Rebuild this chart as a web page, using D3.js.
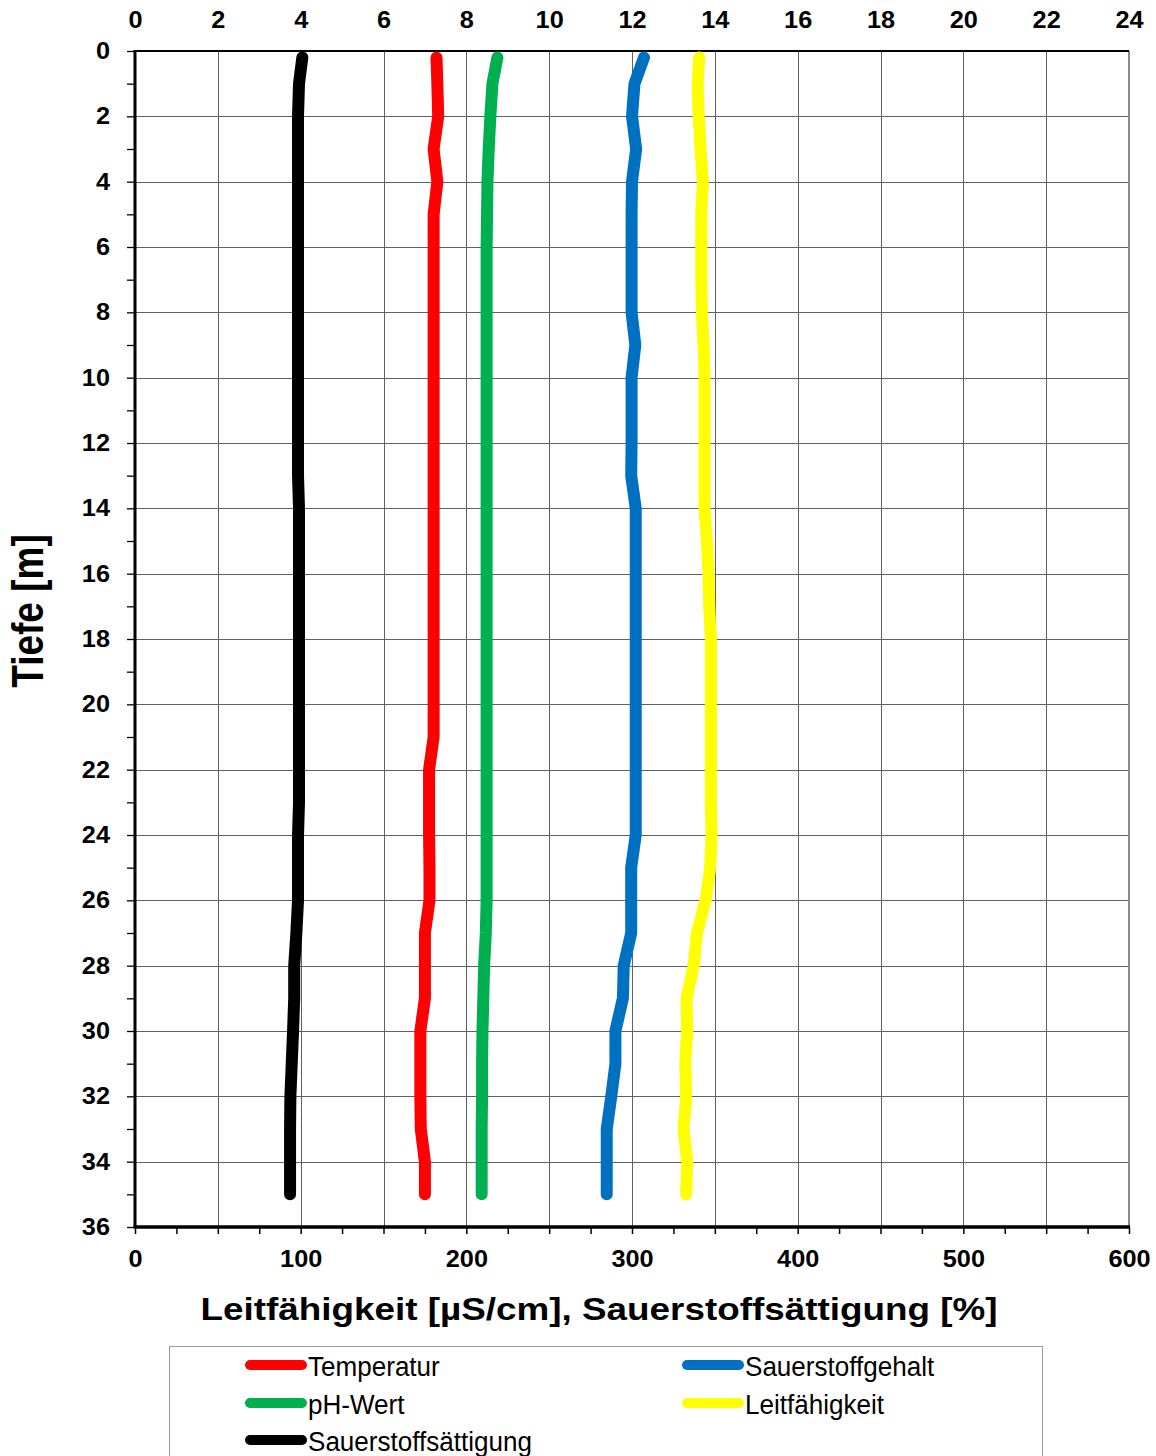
<!DOCTYPE html>
<html><head><meta charset="utf-8">
<script src="https://cdn.jsdelivr.net/npm/d3@7"></script>
<style>body{margin:0;background:#fff}svg{display:block}text{font-family:Arial,"Liberation Sans",sans-serif}</style>
</head><body><svg id="c" width="1156" height="1456"></svg>
<script>
// ---- data ----
const depths = [0.2,1,2,3,4,5,6,7,8,9,10,11,12,13,14,15,16,17,18,19,20,21,22,23,24,25,26,27,28,29,30,31,32,33,34,35];
const temperatur = [7.28,7.30,7.32,7.21,7.30,7.21,7.21,7.21,7.21,7.21,7.21,7.21,7.21,7.21,7.21,7.21,7.21,7.21,7.21,7.21,7.21,7.21,7.10,7.10,7.10,7.11,7.11,7.00,7.00,7.00,6.89,6.89,6.89,6.90,7.00,7.00];
const phWert = [8.75,8.63,8.58,8.54,8.51,8.50,8.49,8.49,8.49,8.49,8.49,8.49,8.49,8.49,8.49,8.49,8.49,8.49,8.49,8.49,8.49,8.49,8.49,8.49,8.49,8.49,8.49,8.47,8.43,8.41,8.39,8.38,8.38,8.37,8.37,8.37];
const sauerstoffgehalt = [12.29,12.06,12.00,12.10,12.00,11.99,11.99,11.99,11.99,12.08,11.99,11.99,11.99,11.98,12.09,12.09,12.09,12.09,12.09,12.09,12.09,12.09,12.09,12.09,12.09,11.98,11.98,11.98,11.80,11.78,11.60,11.60,11.50,11.39,11.39,11.39];
const leitfaehigkeit = [340.6,339.6,340.3,341.4,342.8,341.8,341.8,341.8,342.2,343.2,343.8,343.8,343.8,343.8,343.8,345.2,346.2,346.6,347.6,347.6,347.6,347.6,347.6,347.6,348.0,347.2,344.4,339.2,337.2,332.9,333.3,332.1,332.7,331.1,333.3,332.7];
const saettigung = [101.0,99.0,98.4,98.4,98.4,98.4,98.4,98.4,98.4,98.4,98.4,98.4,98.4,98.4,99.0,99.0,99.0,99.0,99.0,99.0,99.0,99.0,99.0,99.0,98.4,98.4,98.4,97.4,96.1,96.1,95.4,94.6,93.8,93.6,93.6,93.6];

const topTicks = [0,2,4,6,8,10,12,14,16,18,20,22,24];
const leftTicks = [0,2,4,6,8,10,12,14,16,18,20,22,24,26,28,30,32,34,36];
const bottomTicks = [0,100,200,300,400,500,600];

const seriesNames = ["Temperatur","pH-Wert","Sauerstoffgehalt","Leitfähigkeit","Sauerstoffsättigung"];

// ---- layout ----
const svg = d3.select('#c');
const M = {l:135, r:1129, t:51, b:1227};
const y = d3.scaleLinear().domain([0,36]).range([M.t, M.b]);
const xTop = d3.scaleLinear().domain([0,24]).range([M.l, M.r]);
const xBot = d3.scaleLinear().domain([0,600]).range([M.l, M.r]);

function stretch(sel, f){
  sel.each(function(){
    const w = this.getComputedTextLength();
    if (w > 0){ this.setAttribute('textLength', w*f); this.setAttribute('lengthAdjust','spacingAndGlyphs'); }
  });
}

// grid
const grid = svg.append('g').attr('shape-rendering','crispEdges').attr('stroke','#606060').attr('stroke-width',1);
grid.selectAll('line.v').data(d3.range(50,600,50)).join('line').attr('class','v')
  .attr('x1',d=>Math.round(xBot(d))+0.5).attr('x2',d=>Math.round(xBot(d))+0.5)
  .attr('y1',M.t).attr('y2',M.b);
grid.selectAll('line.h').data(d3.range(2,36,2)).join('line').attr('class','h')
  .attr('y1',d=>Math.round(y(d))+0.5).attr('y2',d=>Math.round(y(d))+0.5)
  .attr('x1',M.l).attr('x2',M.r);

// right & top borders
svg.append('line').attr('x1',M.r).attr('x2',M.r).attr('y1',M.t).attr('y2',M.b).attr('stroke','#8a8a8a').attr('stroke-width',2);
svg.append('line').attr('x1',M.l).attr('x2',M.r).attr('y1',M.t).attr('y2',M.t).attr('stroke','#000').attr('stroke-width',2.2);

// left axis
const gl = svg.append('g').attr('transform',`translate(${M.l},0)`)
  .call(d3.axisLeft(y).tickValues(d3.range(0,37,1)).tickSize(8).tickPadding(17)
    .tickFormat(d=> leftTicks.includes(d) ? d : ''));
gl.select('.domain').remove();
gl.selectAll('.tick line').attr('stroke','#000').attr('stroke-width',1.3);
gl.selectAll('text').attr('font-size',23).attr('font-weight','bold').attr('fill','#000')
  .attr('font-family','Arial, "Liberation Sans", sans-serif');
stretch(gl.selectAll('text'), 1.1);
svg.append('line').attr('x1',M.l).attr('x2',M.l).attr('y1',M.t-1).attr('y2',M.b).attr('stroke','#000').attr('stroke-width',3);

// bottom axis
const gb = svg.append('g').attr('transform',`translate(0,${M.b})`)
  .call(d3.axisBottom(xBot).tickValues(d3.range(0,601,25)).tickSize(7)
    .tickFormat(d=> bottomTicks.includes(d) ? d : ''));
gb.select('.domain').remove();
gb.selectAll('.tick line').attr('stroke','#000').attr('stroke-width',1.5);
gb.selectAll('text').attr('y',40).attr('dy',null).attr('font-size',23).attr('font-weight','bold').attr('fill','#000')
  .attr('font-family','Arial, "Liberation Sans", sans-serif');
stretch(gb.selectAll('text'), 1.1);
svg.append('line').attr('x1',M.l-1.5).attr('x2',M.r+1).attr('y1',M.b).attr('y2',M.b).attr('stroke','#000').attr('stroke-width',3.5);

// top axis
const gt = svg.append('g').attr('transform',`translate(0,${M.t})`)
  .call(d3.axisTop(xTop).tickValues(topTicks).tickSize(0).tickPadding(23));
gt.select('.domain').remove();
gt.selectAll('.tick line').remove();
gt.selectAll('text').attr('font-size',23).attr('font-weight','bold').attr('fill','#000')
  .attr('font-family','Arial, "Liberation Sans", sans-serif');
stretch(gt.selectAll('text'), 1.1);

// axis titles
svg.append('text').attr('transform','translate(43,611) scale(1.2,1) rotate(-90)')
  .attr('text-anchor','middle').attr('font-size',37).attr('font-weight','bold').text('Tiefe [m]');
const bt = svg.append('text').attr('x',599).attr('y',1320).attr('text-anchor','middle')
  .attr('font-size',31).attr('font-weight','bold').text('Leitfähigkeit [µS/cm], Sauerstoffsättigung [%]');
bt.attr('textLength',797).attr('lengthAdjust','spacingAndGlyphs');

// series
const series = [
  {name: seriesNames[4], vals: saettigung, x: xBot, color:'#000000'},
  {name: seriesNames[0], vals: temperatur, x: xTop, color:'#FF0000'},
  {name: seriesNames[1], vals: phWert, x: xTop, color:'#00B050'},
  {name: seriesNames[2], vals: sauerstoffgehalt, x: xTop, color:'#0070C0'},
  {name: seriesNames[3], vals: leitfaehigkeit, x: xBot, color:'#FFFF00'}
];
const gLines = svg.append('g');
series.forEach(s=>{
  const pts = depths.map((d,i)=>({d, v:s.vals[i]}));
  const line = d3.line().x(p=>s.x(p.v)).y(p=>y(p.d));
  gLines.append('path').attr('d', line(pts)).attr('fill','none').attr('stroke',s.color)
    .attr('stroke-width',12).attr('stroke-linecap','round').attr('stroke-linejoin','miter');
});

// legend
svg.append('rect').attr('x',169.5).attr('y',1346.5).attr('width',873).attr('height',160)
  .attr('fill','#fff').attr('stroke','#9a9a9a').attr('stroke-width',1);
const legendItems = [
  {name: seriesNames[0], color:'#FF0000', col:0, row:0},
  {name: seriesNames[2], color:'#0070C0', col:1, row:0},
  {name: seriesNames[1], color:'#00B050', col:0, row:1},
  {name: seriesNames[3], color:'#FFFF00', col:1, row:1},
  {name: seriesNames[4], color:'#000000', col:0, row:2}
];
const colX = [250, 687];
const rowY = [1365, 1403, 1440];
const lg = svg.append('g');
legendItems.forEach(it=>{
  const cx = colX[it.col], cy = rowY[it.row];
  lg.append('line').attr('x1',cx).attr('x2',cx+52).attr('y1',cy).attr('y2',cy)
    .attr('stroke',it.color).attr('stroke-width',10).attr('stroke-linecap','round');
  lg.append('text').attr('x',cx+58).attr('y',cy+11).attr('font-size',27).attr('fill','#000').text(it.name);
});
stretch(lg.selectAll('text'), 0.965);
</script>
</body></html>
